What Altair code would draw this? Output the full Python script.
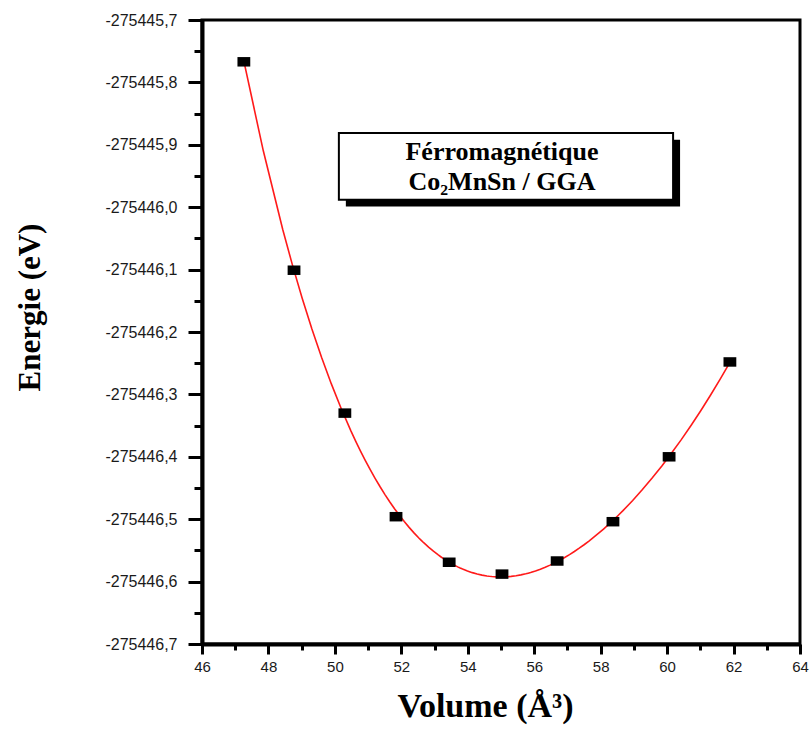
import altair as alt
import pandas as pd

# Energy vs. cell volume for ferromagnetic Co2MnSn (GGA)
volume = [47.26, 48.77, 50.30, 51.84, 53.44, 55.03, 56.69, 58.37, 60.06, 61.89]
energy = [-275445.767, -275446.101, -275446.330, -275446.496, -275446.569,
          -275446.588, -275446.567, -275446.504, -275446.400, -275446.248]

x_major = [46, 48, 50, 52, 54, 56, 58, 60, 62, 64]
x_minor = [47, 49, 51, 53, 55, 57, 59, 61, 63]
y_major = [-275446.7, -275446.6, -275446.5, -275446.4, -275446.3, -275446.2,
           -275446.1, -275446.0, -275445.9, -275445.8, -275445.7]
y_minor = [-275446.65, -275446.55, -275446.45, -275446.35, -275446.25,
           -275446.15, -275446.05, -275445.95, -275445.85, -275445.75]

# legend box (data coordinates) and its two lines of text
box = {"x": [50.12], "x2": [60.18], "y": [-275445.881], "y2": [-275445.988]}
shadow = {"x": [50.33], "x2": [60.39], "y": [-275445.892], "y2": [-275445.999]}
box_lines = ["Férromagnétique", "Co₂MnSn / GGA"]
box_text_x = [55.03, 55.03]
box_text_y = [-275445.924, -275445.972]

points = pd.DataFrame({"volume": volume, "energy": energy})

x_scale = alt.Scale(domain=[46, 64], nice=False, zero=False)
y_scale = alt.Scale(domain=[-275446.7, -275445.7], nice=False, zero=False)

# major ticks: even volumes, energies on a 0.1 eV step
major_x_test = "abs(datum.value % 2) < 0.001"
major_y_test = "abs(round(datum.value * 10) - datum.value * 10) < 0.01"

x_axis = alt.Axis(
    values=x_major + x_minor,
    title="Volume (Å³)",
    titleFont="Liberation Serif", titleFontSize=34, titleFontWeight="bold",
    titleColor="black", titleX=283, titleY=62, titleBaseline="middle",
    titleAnchor="start", titleAlign="center",
    labelExpr=f"{major_x_test} ? format(datum.value, 'd') : ''",
    labelFont="Liberation Sans", labelFontSize=15, labelColor="#1a1a1a",
    labelPadding=5, labelFlush=False, labelOverlap=False,
    tickSize={"condition": {"test": major_x_test, "value": 10}, "value": 6},
    tickWidth=3, tickColor="black",
    domainColor="black", domainWidth=4, grid=False,
)

y_axis = alt.Axis(
    values=y_major + y_minor,
    title="Energie (eV)",
    titleFont="Liberation Serif", titleFontSize=31, titleFontWeight="bold",
    titleColor="black", titleX=-172, titleY=287, titleBaseline="middle",
    titleAnchor="start", titleAlign="center", titleAngle=-90,
    labelExpr=f"{major_y_test} ? '-' + replace(format(-datum.value, '.1f'), '.', ',') : ''",
    labelFont="Liberation Sans", labelFontSize=16, labelColor="#1a1a1a",
    labelPadding=11, labelFlush=False, labelOverlap=False,
    tickSize={"condition": {"test": major_y_test, "value": 14}, "value": 8},
    tickWidth=3, tickColor="black",
    domainColor="black", domainWidth=4, grid=False,
)


def xy(xf, yf):
    return {
        "x": alt.X(xf, scale=x_scale, axis=x_axis),
        "y": alt.Y(yf, scale=y_scale, axis=y_axis),
    }


base = alt.Chart(points)

fit = base.transform_regression(
    "volume", "energy", method="poly", order=4, extent=[volume[0], volume[-1]]
).mark_line(color="#ff1a1a", strokeWidth=1.6, clip=True).encode(
    **xy("volume:Q", "energy:Q")
)

dots = base.mark_point(
    shape="M-1.35,-1L1.35,-1L1.35,1L-1.35,1Z", filled=True, color="black",
    opacity=1, size=90,
).encode(**xy("volume:Q", "energy:Q"))

shadow_rect = alt.Chart(pd.DataFrame(shadow)).mark_rect(color="black").encode(
    **xy("x:Q", "y:Q"), x2="x2:Q", y2="y2:Q",
)

box_rect = alt.Chart(pd.DataFrame(box)).mark_rect(
    fill="white", stroke="black", strokeWidth=2
).encode(**xy("x:Q", "y:Q"), x2="x2:Q", y2="y2:Q")

box_label = alt.Chart(
    pd.DataFrame({"x": box_text_x, "y": box_text_y, "t": box_lines})
).mark_text(
    font="Liberation Serif", fontSize=26, fontWeight="bold", color="black",
    align="center", baseline="alphabetic",
).encode(**xy("x:Q", "y:Q"), text="t:N")

chart = alt.layer(fit, shadow_rect, box_rect, box_label, dots).properties(
    width=598, height=624,
    autosize=alt.AutoSizeParams(type="none"),
    padding={"left": 202, "top": 20, "right": 12, "bottom": 85},
    background="white",
).configure_view(stroke="black", strokeWidth=3)

chart.save("out.html", embed_options={"renderer": "svg", "actions": False})
